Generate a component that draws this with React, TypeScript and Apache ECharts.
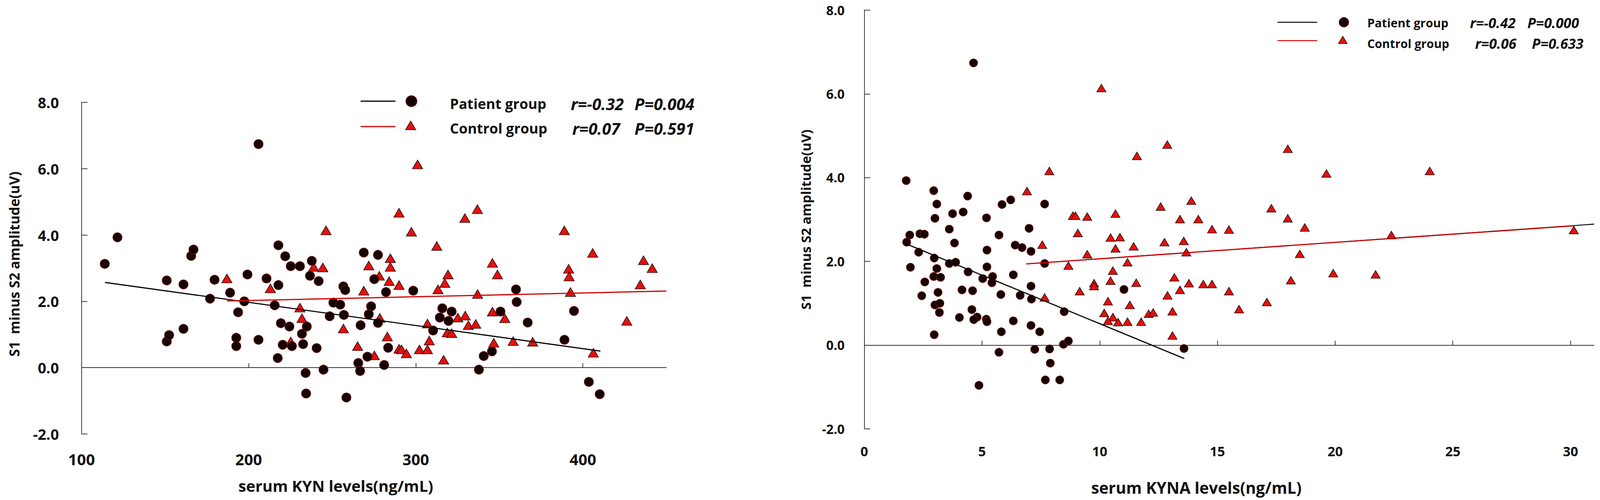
import React, { useEffect, useRef } from "react";
import * as echarts from "echarts";

// ---------- Data ----------
// Left panel: serum KYN levels (ng/mL) vs S1 minus S2 amplitude (uV)
const kynPatients: number[][] = [
  [113.9, 3.13], [121.5, 3.93], [151.0, 2.63], [151.0, 0.79], [152.4, 0.98], [161.0, 2.51], [161.0, 1.17],
  [165.6, 3.37], [167.0, 3.56], [176.9, 2.08], [179.6, 2.65], [188.9, 2.26], [193.7, 1.67], [192.6, 0.9],
  [192.6, 0.65], [197.4, 2.0], [199.3, 2.81], [205.9, 0.84], [205.9, 6.74], [210.7, 2.69], [217.8, 2.49],
  [215.6, 1.88], [217.8, 3.69], [221.9, 3.36], [225.2, 3.06], [230.7, 3.06], [237.8, 3.22], [236.7, 2.77],
  [241.9, 2.61], [219.3, 1.34], [224.4, 1.24], [234.8, 1.24], [231.9, 1.02], [220.4, 0.69], [225.9, 0.65],
  [232.6, 0.71], [240.7, 0.59], [217.4, 0.29], [234.1, -0.16], [244.8, -0.06], [234.4, -0.78], [258.5, -0.9],
  [256.7, 2.45], [257.8, 2.34], [250.7, 1.96], [254.8, 1.9], [248.5, 1.55], [257.0, 1.59], [267.0, 1.28],
  [273.3, 1.85], [271.9, 1.61], [277.4, 1.35], [268.9, 3.47], [277.4, 3.4], [275.2, 2.67], [282.2, 2.28],
  [271.1, 0.33], [265.6, 0.14], [266.7, -0.1], [281.1, 0.08], [283.5, 0.6], [298.5, 2.32], [310.4, 1.12],
  [315.9, 1.79], [321.5, 1.69], [314.4, 1.51], [319.6, 1.41], [360.0, 2.36], [360.4, 1.98], [350.7, 1.69],
  [367.0, 1.36], [345.6, 0.49], [340.7, 0.35], [337.8, -0.06], [394.7, 1.71], [389.0, 0.84], [403.6, -0.43],
  [410.1, -0.8],
];
const kynControls: number[][] = [
  [187.0, 2.69], [213.0, 2.39], [246.3, 4.14], [238.9, 3.04], [244.4, 3.02], [230.7, 1.81], [231.9, 1.49],
  [225.2, 0.79], [256.7, 1.18], [265.2, 0.65], [275.2, 0.37], [271.9, 3.08], [278.2, 2.77], [268.9, 2.32],
  [278.5, 1.5], [329.4, 4.51], [336.9, 4.78], [297.4, 4.1], [312.6, 3.67], [284.8, 3.3], [284.8, 3.04],
  [284.1, 2.61], [290.0, 2.49], [313.3, 2.36], [317.4, 2.55], [319.3, 2.81], [337.0, 2.22], [345.9, 3.16],
  [348.9, 2.81], [345.9, 1.69], [353.3, 1.49], [325.2, 1.51], [329.6, 1.57], [331.5, 1.28], [335.9, 1.32],
  [307.0, 1.33], [318.9, 1.06], [321.5, 1.04], [283.0, 0.94], [308.1, 0.82], [290.0, 0.57], [291.5, 0.55],
  [294.4, 0.43], [302.2, 0.55], [307.0, 0.55], [316.7, 0.24], [346.7, 0.75], [358.3, 0.8], [370.0, 0.78],
  [301.1, 6.13], [290.0, 4.67], [388.9, 4.14], [405.9, 3.46], [436.3, 3.24], [441.5, 3.0], [434.4, 2.51],
  [426.3, 1.41], [391.5, 2.98], [391.8, 2.75], [392.6, 2.28], [406.3, 0.45],
];
const kynPatientFit: number[][] = [[114, 2.57], [410.5, 0.5]];
const kynControlFit: number[][] = [[187, 2.01], [450, 2.31]];

// Right panel: serum KYNA levels (ng/mL)
const kynaPatients: number[][] = [
  [1.78, 3.93], [2.95, 3.69], [3.08, 3.37], [3.0, 3.03], [4.39, 3.56], [3.75, 3.14], [4.2, 3.18], [3.61, 2.77],
  [1.93, 2.63], [2.36, 2.66], [2.55, 2.65], [1.8, 2.46], [2.31, 2.22], [2.97, 2.08], [1.96, 1.86], [3.08, 1.83],
  [2.95, 1.64], [3.24, 1.62], [2.57, 1.51], [2.44, 1.18], [3.13, 1.26], [3.0, 0.96], [3.21, 1.0], [3.19, 0.78],
  [2.97, 0.25], [3.61, 1.95], [3.88, 1.98], [3.83, 2.44], [4.41, 1.75], [4.15, 1.32], [4.6, 1.3], [4.04, 0.66],
  [4.57, 0.85], [4.79, 0.67], [4.65, 0.61], [5.18, 0.62], [5.21, 0.56], [5.03, 1.59], [5.45, 1.64], [5.42, 1.49],
  [5.19, 3.04], [5.21, 2.27], [5.21, 1.87], [5.72, 2.63], [5.85, 3.36], [6.22, 3.47], [5.8, 1.21], [5.82, 0.32],
  [6.33, 1.68], [6.33, 0.58], [6.41, 2.39], [6.7, 2.33], [7.08, 2.24], [7.0, 2.79], [7.66, 3.37], [6.62, 1.19],
  [7.08, 1.41], [7.1, 1.1], [7.08, 0.47], [7.45, 0.32], [7.66, 1.95], [8.49, 0.8], [8.46, 0.02], [8.67, 0.1],
  [5.72, -0.17], [7.24, -0.1], [7.87, -0.09], [7.9, -0.43], [7.69, -0.83], [8.3, -0.83], [4.87, -0.96],
  [4.64, 6.74], [11.03, 1.33], [13.58, -0.08],
];
const kynaControls: number[][] = [
  [6.91, 3.68], [7.86, 4.16], [10.07, 6.14], [11.58, 4.52], [12.87, 4.79], [7.56, 2.4], [7.66, 1.14], [8.67, 1.9],
  [8.86, 3.09], [8.97, 3.09], [9.47, 3.07], [10.67, 3.14], [9.07, 2.68], [10.46, 2.57], [10.86, 2.58], [10.67, 2.31],
  [11.44, 2.36], [9.47, 2.17], [11.18, 1.98], [12.59, 3.31], [13.89, 3.45], [13.41, 3.01], [14.19, 3.01],
  [14.77, 2.77], [15.49, 2.76], [12.75, 2.46], [13.57, 2.49], [13.68, 2.22], [10.56, 1.78], [10.46, 1.54],
  [9.76, 1.48], [9.76, 1.41], [9.15, 1.29], [11.55, 1.49], [10.35, 1.05], [11.28, 0.96], [10.19, 0.77],
  [10.56, 0.67], [10.35, 0.58], [10.78, 0.55], [11.18, 0.56], [11.76, 0.56], [12.08, 0.75], [12.27, 0.78],
  [13.09, 0.81], [13.09, 0.23], [13.17, 1.62], [13.79, 1.48], [14.4, 1.46], [14.77, 1.46], [13.41, 1.32],
  [12.88, 1.19], [15.49, 1.29], [15.92, 0.86], [17.1, 1.03], [17.29, 3.27], [17.99, 4.69], [17.99, 3.03],
  [18.71, 2.81], [18.5, 2.18], [18.12, 1.55], [19.63, 4.1], [19.92, 1.72], [21.72, 1.69], [22.39, 2.63],
  [24.02, 4.16], [30.14, 2.75],
];
const kynaPatientFit: number[][] = [[1.73, 2.43], [13.59, -0.32]];
const kynaControlFitUnder: number[][] = [[6.88, 1.94], [31.0, 2.89]];
const kynaControlFit: number[][] = [[6.88, 1.94], [30.14, 2.85]];

// Axis settings
const kynRange = [100, 450];
const kynaRange = [0, 31];
const ampRange = [-2, 8];

// Legend texts
const groupNames = ["Patient group", "Control group"];
const kynStats = [["r=-0.32", "P=0.004"], ["r=0.07", "P=0.591"]];
const kynaStats = [["r=-0.42", "P=0.000"], ["r=0.06", "P=0.633"]];

const FONT = "'Open Sans', 'DejaVu Sans', sans-serif";
const AXIS_COLOR = "#333333";
const TEXT_COLOR = "#111111";
const PATIENT_FILL = "#160202";
const PATIENT_BORDER = "#7a1414";
const CONTROL_FILL = "#e4100c";
const RED_LINE = "#d20000";

// Design space of the reference picture
const DW = 4317;
const DH = 1280;

export default function App() {
  const ref = useRef<HTMLDivElement>(null);

  useEffect(() => {
    document.body.style.margin = "0";
    if (!ref.current) return;
    const el = ref.current;
    const W = el.clientWidth || DW;
    const H = el.clientHeight || DH;
    const sx = W / DW;
    const sy = H / DH;
    const s = Math.min(sx, sy);
    const X = (v: number) => v * sx;
    const Y = (v: number) => v * sy;
    const F = (v: number) => v * s;

    const chart = echarts.init(el, null, { renderer: "svg" });

    const txt = (x: number, y: number, text: string, size: number, opts: any = {}) => ({
      type: "text",
      x: X(x),
      y: Y(y),
      rotation: opts.rotation || 0,
      style: {
        text,
        fill: TEXT_COLOR,
        fontFamily: FONT,
        fontWeight: "bold",
        fontStyle: opts.italic ? "italic" : "normal",
        fontSize: F(size),
        align: opts.align || "left",
        verticalAlign: "middle",
      },
    });

    const tri = (cx: number, cy: number, w: number, h: number) => ({
      type: "polygon",
      shape: {
        points: [
          [X(cx), Y(cy) - F(h) / 2],
          [X(cx) + F(w) / 2, Y(cy) + F(h) / 2],
          [X(cx) - F(w) / 2, Y(cy) + F(h) / 2],
        ],
      },
      style: { fill: CONTROL_FILL, stroke: "#111", lineWidth: F(1.5) },
    });

    const seg = (x1: number, x2: number, y: number, color: string, w: number) => ({
      type: "line",
      shape: { x1: X(x1), y1: Y(y), x2: X(x2), y2: Y(y) },
      style: { stroke: color, lineWidth: F(w) },
    });

    const dot = (cx: number, cy: number, r: number) => ({
      type: "circle",
      shape: { cx: X(cx), cy: Y(cy), r: F(r) },
      style: { fill: PATIENT_FILL, stroke: PATIENT_BORDER, lineWidth: F(1.5) },
    });

    // x axis line sits on y = 0; its labels stay at the grid bottom (margin measured from there)
    const makeXAxis = (grid: number, range: number[], interval: number, size: number, margin: number) => ({
      type: "value",
      gridIndex: grid,
      min: range[0],
      max: range[1],
      interval,
      axisLine: { show: true, onZero: true, lineStyle: { color: AXIS_COLOR, width: F(2) } },
      axisTick: { show: true, inside: true, length: F(12), lineStyle: { color: AXIS_COLOR, width: F(2) } },
      axisLabel: {
        margin: Y(margin),
        fontSize: F(size),
        fontWeight: "bold",
        fontFamily: FONT,
        color: TEXT_COLOR,
        showMaxLabel: false,
      },
      splitLine: { show: false },
    });

    const makeYAxis = (grid: number, size: number, margin: number) => ({
      type: "value",
      gridIndex: grid,
      min: ampRange[0],
      max: ampRange[1],
      interval: 2,
      axisLine: { show: true, onZero: false, lineStyle: { color: AXIS_COLOR, width: F(2) } },
      axisTick: { show: true, inside: true, length: F(16), lineStyle: { color: AXIS_COLOR, width: F(2) } },
      axisLabel: {
        margin: X(margin),
        fontSize: F(size),
        fontWeight: "bold",
        fontFamily: FONT,
        color: TEXT_COLOR,
        formatter: (v: number) => v.toFixed(1),
      },
      splitLine: { show: false },
    });

    const scatterSeries = (name: string, grid: number, data: number[][], patient: boolean, size: number[]) => ({
      name,
      type: "scatter",
      xAxisIndex: grid,
      yAxisIndex: grid,
      data,
      symbol: patient ? "circle" : "triangle",
      symbolSize: [F(size[0]), F(size[1])],
      itemStyle: patient
        ? { color: PATIENT_FILL, borderColor: PATIENT_BORDER, borderWidth: F(1.5), opacity: 1 }
        : { color: CONTROL_FILL, borderColor: "#111", borderWidth: F(1.5), opacity: 1 },
      z: patient ? 3 : 2,
    });

    const lineSeries = (name: string, grid: number, data: number[][], color: string, width: number, z: number) => ({
      name,
      type: "line",
      xAxisIndex: grid,
      yAxisIndex: grid,
      data,
      symbol: "none",
      showSymbol: false,
      lineStyle: { color, width: F(width) },
      z,
    });

    const graphic: any[] = [
      // Left panel titles
      txt(38, 676, "S1  minus S2 amplitude(uV)", 37, { rotation: Math.PI / 2, align: "center" }),
      txt(906, 1243, "serum KYN levels(ng/mL)", 42, { align: "center" }),
      // Left legend
      seg(973, 1067, 259, "#000", 3),
      seg(973, 1067, 324, RED_LINE, 3),
      dot(1110, 259, 15),
      tri(1108, 321, 28, 24),
      txt(1214, 265, groupNames[0], 38),
      txt(1214, 328, groupNames[1], 38),
      txt(1540, 265, kynStats[0][0], 44, { italic: true }),
      txt(1712, 265, kynStats[0][1], 44, { italic: true }),
      txt(1544, 328, kynStats[1][0], 44, { italic: true }),
      txt(1712, 328, kynStats[1][1], 44, { italic: true }),
      // Right panel titles
      txt(2174, 562, "S1  minus S2 amplitude(uV)", 36, { rotation: Math.PI / 2, align: "center" }),
      txt(3228, 1248, "serum KYNA levels(ng/mL)", 43, { align: "center" }),
      // Right legend
      seg(3447, 3554, 57, "#000", 2.5),
      seg(3447, 3554, 104, RED_LINE, 2.5),
      dot(3626, 57, 13),
      tri(3623, 102, 24, 20),
      txt(3689, 58, groupNames[0], 32),
      txt(3689, 111, groupNames[1], 32),
      txt(3966, 58, kynaStats[0][0], 38, { italic: true }),
      txt(4121, 58, kynaStats[0][1], 38, { italic: true }),
      txt(3980, 111, kynaStats[1][0], 38, { italic: true }),
      txt(4133, 111, kynaStats[1][1], 38, { italic: true }),
    ];

    chart.setOption({
      animation: false,
      backgroundColor: "#ffffff",
      grid: [
        { left: X(220), top: Y(262), width: X(1578), height: Y(849), containLabel: false },
        { left: X(2332), top: Y(26), width: X(1969), height: Y(1072), containLabel: false },
      ],
      xAxis: [makeXAxis(0, kynRange, 100, 42, 44), makeXAxis(1, kynaRange, 5, 36, 39)],
      yAxis: [makeYAxis(0, 40, 61), makeYAxis(1, 35, 53)],
      series: [
        scatterSeries("KYN control", 0, kynControls, false, [28, 24]),
        scatterSeries("KYN patient", 0, kynPatients, true, [25, 25]),
        lineSeries("KYN patient fit", 0, kynPatientFit, "#000", 3, 4),
        lineSeries("KYN control fit", 0, kynControlFit, RED_LINE, 3.2, 5),
        scatterSeries("KYNA control", 1, kynaControls, false, [25, 21]),
        scatterSeries("KYNA patient", 1, kynaPatients, true, [22, 22]),
        lineSeries("KYNA patient fit", 1, kynaPatientFit, "#000", 3, 4),
        lineSeries("KYNA control fit (under)", 1, kynaControlFitUnder, "#000", 2.5, 4),
        lineSeries("KYNA control fit", 1, kynaControlFit, RED_LINE, 3, 5),
      ],
      graphic,
    });

    return () => {
      chart.dispose();
    };
  }, []);

  return (
    <div
      ref={ref}
      style={{ position: "fixed", left: 0, top: 0, width: "100vw", height: "100vh", background: "#fff" }}
    />
  );
}
